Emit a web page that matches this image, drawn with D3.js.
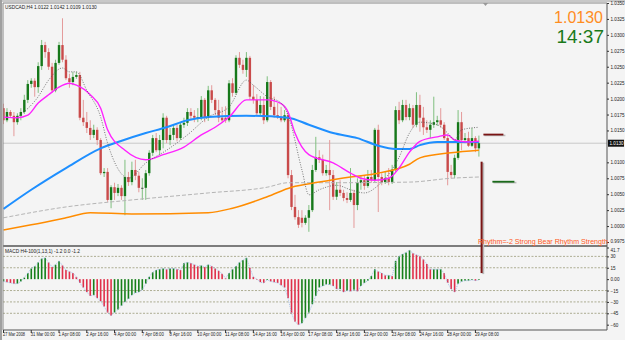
<!DOCTYPE html>
<html><head><meta charset="utf-8">
<script src="https://cdn.jsdelivr.net/npm/d3@7"></script>
<style>body{margin:0;background:#f4f4f4;} svg{display:block;font-family:"Liberation Sans",Arial,sans-serif;}</style>
</head><body><svg id="c" width="625" height="340"></svg>
<script>
const openP = [1.0185,1.0166,1.0179,1.0173,1.0163,1.0173,1.0179,1.0198,1.0223,1.0228,
1.0218,1.0251,1.0284,1.0273,1.0250,1.0213,1.0256,1.0284,1.0261,1.0232,
1.0226,1.0234,1.0237,1.0170,1.0163,1.0154,1.0143,1.0151,1.0135,1.0083,
1.0085,1.0041,1.0061,1.0052,1.0060,1.0047,1.0077,1.0069,1.0088,1.0079,
1.0060,1.0060,1.0083,1.0115,1.0138,1.0119,1.0135,1.0170,1.0135,1.0143,
1.0154,1.0138,1.0159,1.0162,1.0179,1.0173,1.0170,1.0171,1.0198,1.0170,
1.0213,1.0198,1.0182,1.0170,1.0170,1.0166,1.0224,1.0209,1.0264,1.0253,
1.0245,1.0264,1.0203,1.0198,1.0177,1.0190,1.0166,1.0226,1.0187,1.0174,
1.0171,1.0166,1.0174,1.0080,1.0030,1.0014,1.0013,1.0005,1.0013,1.0025,
1.0088,1.0108,1.0104,1.0083,1.0088,1.0080,1.0046,1.0057,1.0052,1.0044,
1.0041,1.0052,1.0033,1.0068,1.0072,1.0063,1.0077,1.0072,1.0151,1.0077,
1.0069,1.0075,1.0069,1.0088,1.0182,1.0166,1.0190,1.0171,1.0185,1.0159,
1.0190,1.0170,1.0155,1.0151,1.0159,1.0163,1.0166,1.0159,1.0138,1.0085,
1.0080,1.0107,1.0163,1.0135,1.0138,1.0126,1.0138,1.0122];
const highP = [1.0192,1.0185,1.0182,1.0179,1.0177,1.0185,1.0206,1.0229,1.0232,1.0232,
1.0257,1.0292,1.0289,1.0279,1.0256,1.0261,1.0289,1.0326,1.0268,1.0239,
1.0242,1.0242,1.0242,1.0198,1.0179,1.0166,1.0159,1.0155,1.0138,1.0091,
1.0091,1.0064,1.0068,1.0066,1.0064,1.0104,1.0085,1.0101,1.0104,1.0085,
1.0075,1.0088,1.0119,1.0143,1.0146,1.0143,1.0177,1.0173,1.0154,1.0159,
1.0159,1.0163,1.0170,1.0185,1.0185,1.0182,1.0185,1.0204,1.0201,1.0220,
1.0221,1.0201,1.0198,1.0187,1.0188,1.0229,1.0232,1.0268,1.0273,1.0261,
1.0273,1.0267,1.0221,1.0207,1.0204,1.0203,1.0235,1.0229,1.0203,1.0193,
1.0187,1.0182,1.0179,1.0088,1.0049,1.0025,1.0025,1.0017,1.0033,1.0096,
1.0140,1.0119,1.0112,1.0096,1.0135,1.0088,1.0069,1.0072,1.0057,1.0053,
1.0091,1.0057,1.0075,1.0080,1.0079,1.0088,1.0088,1.0154,1.0159,1.0083,
1.0085,1.0091,1.0096,1.0188,1.0195,1.0198,1.0198,1.0192,1.0190,1.0210,
1.0206,1.0187,1.0166,1.0166,1.0203,1.0173,1.0185,1.0163,1.0143,1.0096,
1.0112,1.0182,1.0179,1.0146,1.0148,1.0154,1.0141,1.0142];
const lowP = [1.0160,1.0163,1.0170,1.0141,1.0159,1.0166,1.0176,1.0193,1.0217,1.0203,
1.0209,1.0245,1.0264,1.0245,1.0209,1.0210,1.0253,1.0257,1.0229,1.0217,
1.0221,1.0231,1.0166,1.0157,1.0146,1.0135,1.0138,1.0127,1.0080,1.0077,
1.0038,1.0028,1.0041,1.0047,1.0041,1.0017,1.0063,1.0064,1.0072,1.0053,
1.0041,1.0041,1.0079,1.0110,1.0116,1.0112,1.0122,1.0130,1.0127,1.0135,
1.0133,1.0135,1.0154,1.0157,1.0166,1.0163,1.0163,1.0166,1.0163,1.0165,
1.0193,1.0174,1.0163,1.0162,1.0162,1.0163,1.0203,1.0206,1.0248,1.0239,
1.0234,1.0198,1.0192,1.0173,1.0173,1.0160,1.0163,1.0182,1.0170,1.0168,
1.0163,1.0163,1.0075,1.0025,1.0010,0.9997,0.9998,1.0002,0.9991,1.0022,
1.0085,1.0099,1.0079,1.0079,1.0025,1.0041,1.0041,1.0047,1.0039,1.0036,
1.0038,0.9997,1.0025,1.0057,1.0057,1.0060,1.0068,1.0069,1.0022,1.0064,
1.0066,1.0064,1.0066,1.0085,1.0160,1.0163,1.0166,1.0166,1.0154,1.0155,
1.0148,1.0143,1.0146,1.0138,1.0154,1.0157,1.0154,1.0135,1.0064,1.0075,
1.0075,1.0104,1.0119,1.0130,1.0124,1.0124,1.0116,1.0109];
const closeP = [1.0166,1.0179,1.0173,1.0163,1.0173,1.0179,1.0198,1.0223,1.0228,1.0218,
1.0251,1.0284,1.0273,1.0250,1.0213,1.0256,1.0284,1.0261,1.0232,1.0226,
1.0234,1.0237,1.0170,1.0163,1.0154,1.0143,1.0151,1.0135,1.0083,1.0085,
1.0041,1.0061,1.0052,1.0060,1.0047,1.0077,1.0069,1.0088,1.0079,1.0060,
1.0060,1.0083,1.0115,1.0138,1.0119,1.0135,1.0170,1.0135,1.0143,1.0154,
1.0138,1.0159,1.0162,1.0179,1.0173,1.0170,1.0171,1.0198,1.0170,1.0213,
1.0198,1.0182,1.0170,1.0166,1.0166,1.0224,1.0209,1.0264,1.0253,1.0245,
1.0264,1.0203,1.0198,1.0177,1.0190,1.0166,1.0226,1.0187,1.0174,1.0171,
1.0166,1.0174,1.0080,1.0030,1.0014,1.0002,1.0005,1.0013,1.0025,1.0088,
1.0108,1.0104,1.0083,1.0088,1.0080,1.0046,1.0057,1.0052,1.0044,1.0041,
1.0052,1.0033,1.0068,1.0072,1.0063,1.0077,1.0072,1.0151,1.0077,1.0069,
1.0075,1.0069,1.0088,1.0182,1.0166,1.0190,1.0171,1.0185,1.0159,1.0190,
1.0170,1.0155,1.0151,1.0159,1.0163,1.0166,1.0159,1.0138,1.0085,1.0080,
1.0107,1.0163,1.0135,1.0138,1.0126,1.0138,1.0122,1.0130];
const macdHist = [-3,-4,-5,-6,-6,-3,2,8,14,17,
22,27,28,22,16,19,24,18,12,10,
8,3,-5,-11,-17,-22,-21,-25,-29,-36,
-44,-48,-44,-40,-35,-30,-26,-21,-18,-17,
-14,-6,3,9,12,13,14,13,14,14,
13,12,21,22,21,19,17,18,16,19,
17,14,11,7,1,8,13,17,22,25,
28,15,3,0,-4,-5,-1,-3,-4,-5,
-8,-11,-25,-45,-56,-60,-58,-51,-44,-33,
-22,-11,-9,-7,-7,-9,-13,-13,-17,-15,
-16,-14,-16,-9,-5,-2,4,13,10,8,
5,5,4,24,30,33,35,38,34,32,
30,26,20,13,13,13,13,8,-5,-13,
-17,-6,-3,-2,-2,-1,-2,-1];
// moving averages: [bar index, value]
const maBlue = [[0,1.0027],[8,1.0057],[18,1.0091],[28,1.0122],[33,1.0132],[41,1.0146],[47,1.0155],[53,1.0166],[59,1.0171],[70,1.0173],[82,1.0170],[88,1.0159],[95,1.0146],[102,1.0138],[108,1.0126],[113,1.0121],[117,1.0121],[120,1.0127],[125,1.0132],[130,1.0132],[137,1.0132]];
const maMagenta = [[0,1.0171],[4,1.0170],[7,1.0174],[10,1.0193],[13,1.0206],[16,1.0218],[19,1.0224],[21,1.0221],[25,1.0206],[28,1.0185],[30,1.0151],[35,1.0119],[41,1.0104],[46,1.0112],[52,1.0124],[57,1.0143],[61,1.0155],[65,1.0171],[70,1.0198],[76,1.0198],[80,1.0192],[82,1.0179],[84,1.0146],[88,1.0112],[95,1.0099],[100,1.0083],[103,1.0075],[107,1.0072],[111,1.0075],[114,1.0091],[117,1.0116],[120,1.0133],[125,1.0140],[128,1.0143],[130,1.0135],[134,1.0132],[137,1.0133]];
const maOrange = [[0,0.9994],[8,1.0002],[18,1.0013],[25,1.0021],[37,1.0019],[59,1.0021],[66,1.0028],[76,1.0046],[83,1.0061],[91,1.0069],[100,1.0077],[108,1.0083],[117,1.0097],[120,1.0107],[129,1.0115],[137,1.0119]];
const maGray = [[0,1.0013],[18,1.0030],[37,1.0041],[59,1.0052],[76,1.0061],[82,1.0068],[95,1.0068],[117,1.0069],[129,1.0075],[137,1.0077]];
const maDotted = [[4,1.0171],[10,1.0203],[13,1.0229],[17,1.0248],[19,1.0242],[21,1.0242],[24,1.0213],[28,1.0171],[30,1.0130],[35,1.0077],[36,1.0075],[41,1.0099],[47,1.0119],[53,1.0143],[59,1.0171],[65,1.0187],[70,1.0229],[72,1.0221],[76,1.0203],[80,1.0193],[82,1.0174],[86,1.0088],[88,1.0049],[91,1.0057],[96,1.0064],[100,1.0057],[104,1.0052],[108,1.0064],[114,1.0108],[117,1.0146],[120,1.0163],[125,1.0159],[128,1.0146],[130,1.0135],[132,1.0151],[137,1.0155]];
const timeLabels = ["27 Mar 2008","31 Mar 00:00","1 Apr 08:00","2 Apr 16:00","4 Apr 00:00","7 Apr 08:00","8 Apr 16:00","10 Apr 00:00","11 Apr 08:00","14 Apr 16:00","16 Apr 00:00","17 Apr 08:00","18 Apr 16:00","22 Apr 00:00","23 Apr 08:00","24 Apr 16:00","28 Apr 00:00","29 Apr 08:00"];
const timeLabelBars = [0,8,16,24,32,40,48,56,64,72,80,88,96,104,112,120,128,136];
const priceTicks = [1.0350,1.0325,1.0300,1.0275,1.0250,1.0225,1.0200,1.0175,1.0150,1.0100,1.0075,1.0050,1.0025,1.0000,0.9975];
const macdTicks = [41.7,30,15,0,-15,-30,-45,-60];
const macdLevels = [30,15,-15,-30,-45];
const lastPrice = 1.0130;
const rhythmHigh = 1.0145, rhythmLow = 1.0071, rhythmBarTop = 1.0101, rhythmBarBottom = 8;
const titleText = "USDCAD,H4  1.0122 1.0142 1.0109 1.0130";
const macdTitle = "MACD H4-100(1,13,1) -1.2 0.0 -1.2";

const svg = d3.select("#c");
const W = 625, H = 340, L = 3, R = 607, T = 3, MB = 245.5, MT = 247.5, B = 330;
const x = d3.scaleLinear().domain([0, 137]).range([3.5, 478.9]);
const y = d3.scaleLinear().domain([0.9975, 1.0350]).range([242, 3]);
const ym = d3.scaleLinear().domain([-67, 41.7]).range([B, MT]);

svg.append("rect").attr("width", W).attr("height", H).attr("fill", "#f4f4f4");
svg.append("rect").attr("x", 0).attr("y", 0).attr("width", W).attr("height", 2).attr("fill", "#c8c8c8");
svg.append("rect").attr("x", 0).attr("y", 0).attr("width", 2).attr("height", H).attr("fill", "#a0a0a0");

const defs = svg.append("defs");
defs.append("clipPath").attr("id", "mainClip").append("rect").attr("x", L).attr("y", T).attr("width", R - L).attr("height", MB - T);
defs.append("clipPath").attr("id", "macdClip").append("rect").attr("x", L).attr("y", MT).attr("width", R - L).attr("height", B - MT);

const main = svg.append("g").attr("clip-path", "url(#mainClip)");
main.append("line").attr("x1", L).attr("x2", R).attr("y1", y(lastPrice)).attr("y2", y(lastPrice)).attr("stroke", "#c8c8c8").attr("stroke-width", 1);

const idx = d3.range(closeP.length);
const up = i => closeP[i] >= openP[i];
main.append("g").selectAll("line").data(idx).join("line")
  .attr("x1", i => x(i)).attr("x2", i => x(i))
  .attr("y1", i => y(highP[i])).attr("y2", i => y(lowP[i]))
  .attr("stroke", i => up(i) ? "#7fbf7f" : "#e49a9a").attr("stroke-width", 1);
main.append("g").selectAll("rect").data(idx).join("rect")
  .attr("x", i => x(i) - 1.2).attr("width", 2.4)
  .attr("y", i => y(Math.max(openP[i], closeP[i])))
  .attr("height", i => Math.max(0.8, Math.abs(y(openP[i]) - y(closeP[i]))))
  .attr("fill", i => openP[i] === closeP[i] ? "#333" : (up(i) ? "#16781a" : "#c94a4a"));

const line = d3.line().x(d => x(d[0])).y(d => y(d[1])).curve(d3.curveMonotoneX);
main.append("path").datum(maGray).attr("d", line).attr("fill", "none").attr("stroke", "#b4b4b4").attr("stroke-width", 1).attr("stroke-dasharray", "4,2");
main.append("path").datum(maOrange).attr("d", line).attr("fill", "none").attr("stroke", "#ff8c00").attr("stroke-width", 1.5);
main.append("path").datum(maBlue).attr("d", line).attr("fill", "none").attr("stroke", "#1e8fff").attr("stroke-width", 2);
main.append("path").datum(maMagenta).attr("d", line).attr("fill", "none").attr("stroke", "#ff22ff").attr("stroke-width", 1.4);
main.append("path").datum(maDotted).attr("d", line).attr("fill", "none").attr("stroke", "#555").attr("stroke-width", 0.8).attr("stroke-dasharray", "1,1.5");

const macd = svg.append("g").attr("clip-path", "url(#macdClip)");
macd.append("g").selectAll("line").data(macdLevels).join("line")
  .attr("x1", L).attr("x2", R).attr("y1", d => ym(d)).attr("y2", d => ym(d))
  .attr("stroke", "#9a9a7a").attr("stroke-width", 0.8).attr("stroke-dasharray", "2,1.5");
macd.append("g").selectAll("rect").data(idx).join("rect")
  .attr("x", i => x(i) - 0.8).attr("width", 1.6)
  .attr("y", i => Math.min(ym(0), ym(macdHist[i])))
  .attr("height", i => Math.max(0.5, Math.abs(ym(macdHist[i]) - ym(0))))
  .attr("fill", i => (i === 0 || macdHist[i] >= macdHist[i - 1]) ? "#16801a" : "#e0304a");
macd.append("path").datum(idx).attr("d", d3.line().x(i => x(i)).y(i => ym(macdHist[i])))
  .attr("fill", "none").attr("stroke", "#8fb4e6").attr("stroke-width", 0.8).attr("stroke-dasharray", "1,1");

svg.append("line").attr("x1", L).attr("x2", R).attr("y1", 246).attr("y2", 246).attr("stroke", "#555").attr("stroke-width", 1.5);
svg.append("line").attr("x1", L).attr("x2", R).attr("y1", B).attr("y2", B).attr("stroke", "#555").attr("stroke-width", 1);
svg.append("line").attr("x1", R).attr("x2", R).attr("y1", T).attr("y2", B).attr("stroke", "#555").attr("stroke-width", 1);
svg.append("line").attr("x1", L).attr("x2", L).attr("y1", T).attr("y2", B).attr("stroke", "#888").attr("stroke-width", 1);
svg.append("line").attr("x1", L).attr("x2", R).attr("y1", T).attr("y2", T).attr("stroke", "#888").attr("stroke-width", 1);

const pAxis = d3.axisRight(y).tickValues(priceTicks).tickFormat(d => d.toFixed(4)).tickSize(2).tickPadding(1.5);
const pg = svg.append("g").attr("transform", `translate(${R},0)`).call(pAxis);
pg.select(".domain").remove();
pg.selectAll("text").attr("font-size", 4.6).attr("fill", "#222").attr("dy", d => d === 0.9975 ? "0.1em" : "0.32em");
pg.selectAll("line").attr("stroke", "#333");
const lpY = y(lastPrice);
svg.append("rect").attr("x", R + 1).attr("y", lpY - 3.5).attr("width", 16).attr("height", 7).attr("fill", "#111");
svg.append("text").attr("x", R + 2.5).attr("y", lpY + 1.8).attr("font-size", 4.6).attr("fill", "#fff").text(lastPrice.toFixed(4));

const mAxis = d3.axisRight(ym).tickValues(macdTicks).tickFormat(d => d === 0 ? "0.00" : (d === 41.7 ? "41.7" : d3.format("d")(d))).tickSize(2).tickPadding(1.5);
const mg = svg.append("g").attr("transform", `translate(${R},0)`).call(mAxis);
mg.select(".domain").remove();
mg.selectAll("text").attr("font-size", 4.6).attr("fill", "#222").attr("dy", d => d === 41.7 ? "0.85em" : "0.32em");
mg.selectAll("line").attr("stroke", "#333");

const tg = svg.append("g");
tg.selectAll("line").data(timeLabelBars).join("line")
  .attr("x1", d => x(d)).attr("x2", d => x(d)).attr("y1", B).attr("y2", B + 3).attr("stroke", "#333");
tg.selectAll("text").data(timeLabelBars).join("text")
  .attr("x", d => x(d) - 0.5).attr("y", 336).attr("font-size", 4.6).attr("fill", "#222")
  .attr("textLength", (d, k) => timeLabels[k].length * 2.0).attr("lengthAdjust", "spacingAndGlyphs")
  .text((d, k) => timeLabels[k]);

svg.append("text").attr("x", 5).attr("y", 9).attr("font-size", 4.8).attr("fill", "#222").text(titleText);
svg.append("text").attr("x", 5).attr("y", 253).attr("font-size", 4.8).attr("fill", "#222").text(macdTitle);

svg.append("path").attr("d", `M483,3 L488,3 L485.5,6 Z`).attr("fill", "#999");

const rx = x(137) + 2.5;
const barH = ym(rhythmBarBottom) - y(rhythmBarTop);
svg.append("rect").attr("x", rx + 0.8).attr("y", y(rhythmBarTop) + 1).attr("width", 2).attr("height", barH).attr("fill", "#bbb");
svg.append("rect").attr("x", rx - 0.8).attr("y", y(rhythmBarTop)).attr("width", 2).attr("height", barH).attr("fill", "#7a1414");
svg.append("rect").attr("x", rx + 3).attr("y", y(rhythmHigh) + 1).attr("width", 21).attr("height", 1.6).attr("fill", "#bbb");
svg.append("rect").attr("x", rx + 2).attr("y", y(rhythmHigh)).attr("width", 20).attr("height", 1.8).attr("fill", "#7a1414");
svg.append("rect").attr("x", rx + 12).attr("y", y(rhythmLow) + 1).attr("width", 23).attr("height", 1.6).attr("fill", "#bbb");
svg.append("rect").attr("x", rx + 11).attr("y", y(rhythmLow)).attr("width", 22).attr("height", 1.8).attr("fill", "#1a6a1a");
svg.append("text").attr("x", 478).attr("y", 243.5).attr("font-size", 7.1).attr("fill", "#ff5a1e")
  .text("Rhythm=-2 Strong Bear Rhythm Strength");

svg.append("text").attr("x", 603).attr("y", 23).attr("text-anchor", "end").attr("font-size", 16).attr("fill", "#ff8c1e").text("1.0130");
svg.append("text").attr("x", 604).attr("y", 43).attr("text-anchor", "end").attr("font-size", 19).attr("fill", "#1a7a1a").text("14:37");
</script></body></html>
